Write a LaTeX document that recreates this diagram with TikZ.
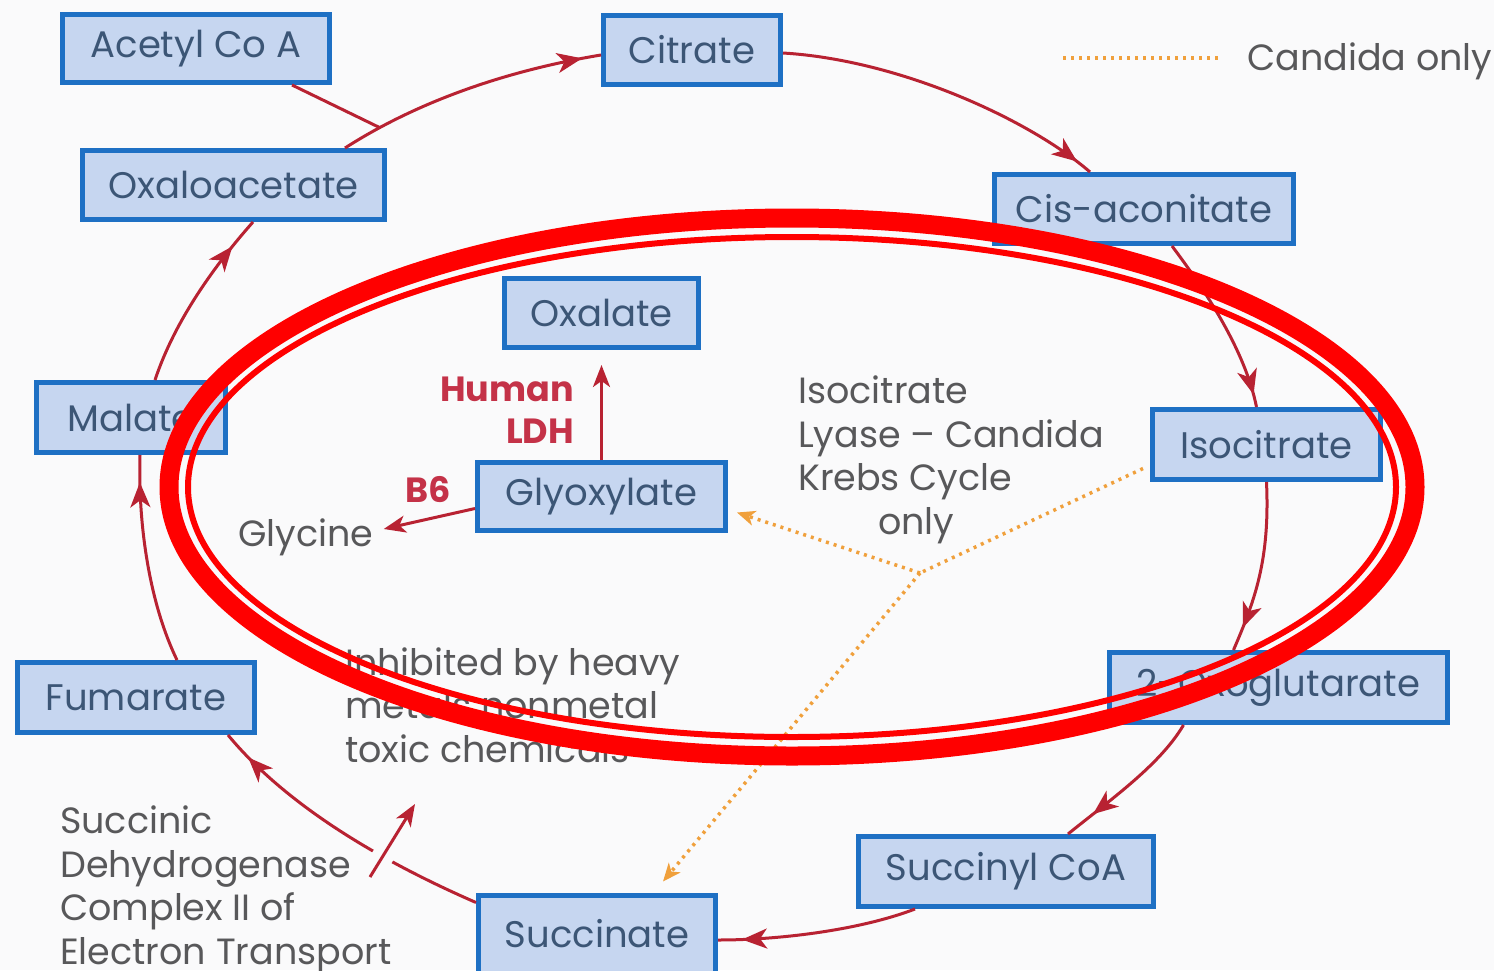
\documentclass[tikz,border=0pt]{standalone}
\usepackage{fontspec}
\setmainfont{Poppins}
\usetikzlibrary{arrows.meta,decorations.markings,calc}
\definecolor{bgc}{RGB}{250,250,251}
\definecolor{boxfill}{RGB}{198,214,240}
\definecolor{boxdraw}{RGB}{30,112,196}
\definecolor{boxtext}{RGB}{60,86,118}
\definecolor{cyc}{RGB}{184,34,50}
\definecolor{redtxt}{RGB}{196,50,72}
\definecolor{graytxt}{RGB}{88,88,90}
\definecolor{orng}{RGB}{240,160,60}
\definecolor{hilite}{RGB}{255,0,0}
\begin{document}
\begin{tikzpicture}[x=1pt,y=-1pt,
  mol/.style={draw=boxdraw, line width=5pt, fill=boxfill, text=boxtext,
    font=\fontsize{37}{42}\selectfont, inner sep=0pt, anchor=center},
  lbl/.style={text=graytxt, font=\fontsize{36.5}{43.5}\selectfont, inner sep=0pt, align=left},
  redlbl/.style={text=redtxt, font=\fontsize{35}{42}\selectfont\bfseries, inner sep=0pt},
  cycline/.style={draw=cyc, color=cyc, line width=3pt},
  midarrow/.style={cycline, postaction={decorate},
    decoration={markings, mark=at position #1 with {\arrow{Stealth[length=25pt,width=20pt,inset=7pt]}}}},
  endarrow/.style={cycline, -{Stealth[length=22pt,width=17pt,inset=6pt]}},
  candida/.style={draw=orng, color=orng, line width=3.5pt, dash pattern=on 3pt off 5pt},
  candarrow/.style={candida, -{Stealth[length=18pt,width=15pt,inset=5pt]}},
]
\useasboundingbox (0,0) rectangle (1494,970);
\fill[bgc] (0,0) rectangle (1494,970);

% boxes
\node[mol, minimum width=267pt, minimum height=68pt] (acetyl) at (196,48.5) {Acetyl Co A};
\node[mol, minimum width=177pt, minimum height=69pt] (citrate) at (692,50) {Citrate};
\node[mol, minimum width=302pt, minimum height=69pt] (oxalo) at (233.5,185) {Oxaloacetate};
\node[mol, minimum width=299pt, minimum height=69pt] (cis) at (1144,209) {Cis-aconitate};
\node[mol, minimum width=194pt, minimum height=69pt] (oxalate) at (601.5,313) {Oxalate};
\node[mol, minimum width=189pt, minimum height=70pt] (malate) at (131,417.5) {Malate};
\node[mol, minimum width=228pt, minimum height=70pt] (isocit) at (1266.5,444.5) {Isocitrate};
\node[mol, minimum width=248pt, minimum height=68pt] (glyox) at (601.5,496.5) {Glyoxylate};
\node[mol, minimum width=237pt, minimum height=70pt] (fumarate) at (136,697.5) {Fumarate};
\node[mol, minimum width=338pt, minimum height=70pt] (oxoglut) at (1278.5,687.5) {2-Oxoglutarate};
\node[mol, minimum width=295pt, minimum height=70pt] (succoa) at (1006,871.5) {Succinyl CoA};
\node[mol, minimum width=237pt, minimum height=78pt] (succinate) at (597,934) {Succinate};

% labels
\node[lbl, anchor=west] (candlbl) at (1247,61) {Candida only};
\node[redlbl, align=right, anchor=east] (human) at (574,410) {Human\\LDH};
\node[redlbl] (b6) at (428,490) {B6};
\node[lbl] (glycine) at (306,537) {Glycine};
\node[lbl, anchor=west] (lyase) at (798,460) {Isocitrate\\Lyase -- Candida\\Krebs Cycle\\\hspace*{80pt}only};
\node[lbl, anchor=west] (inhib) at (345,705) {Inhibited by heavy\\metals nonmetal\\toxic chemicals};
\node[lbl, anchor=west] (sdh) at (60,890) {Succinic\\Dehydrogenase\\Complex II of\\Electron Transport};

% legend
\coordinate (lg1) at (1063,58);
\coordinate (lg2) at (1218,58);
\draw[candida] (lg1) -- (lg2);

% cycle connectors
\draw[midarrow=0.93] ([xshift=111.5pt]oxalo.north) .. controls (420,100) and (510,70) .. ([yshift=-5pt]citrate.west) coordinate[pos=0.15] (j1);
\draw[cycline] ([xshift=96pt]acetyl.south) -- (j1);
\draw[midarrow=0.95] ([yshift=-3pt]citrate.east) .. controls (900,60) and (1030,120) .. ([xshift=-54pt]cis.north);
\draw[midarrow=0.93] ([xshift=28pt]cis.south) .. controls (1205,290) and (1245,350) .. ([xshift=-10pt]isocit.north);
\draw[midarrow=0.86] (isocit.south) .. controls (1270,560) and (1255,600) .. ([xshift=-45pt]oxoglut.north);
\draw[midarrow=0.8] ([xshift=-95pt]oxoglut.south) .. controls (1160,765) and (1110,800) .. ([xshift=62pt]succoa.north);
\draw[midarrow=0.88] ([xshift=-91pt]succoa.south) .. controls (860,930) and (780,940) .. ([yshift=-6pt]succinate.east);
\draw[midarrow=0.9] ([yshift=-10pt]succinate.north west) .. controls (390,865) and (290,810) .. ([xshift=92pt]fumarate.south);
\draw[midarrow=0.87] ([xshift=41pt]fumarate.north) .. controls (148,600) and (138,520) .. ([xshift=9pt]malate.south);
\draw[midarrow=0.83] ([xshift=24pt]malate.north) .. controls (175,320) and (215,265) .. ([xshift=19.5pt]oxalo.south);

% inhibition arrow
\coordinate (inhA) at (370,877);
\coordinate (inhB) at (415,804);
\draw[endarrow, preaction={draw=bgc, line width=22pt, -}] (inhA) -- (inhB);

% glyoxylate branches
\draw[endarrow] (glyox.north) -- ([yshift=-15pt]oxalate.south);
\draw[endarrow] ([yshift=-12pt]glyox.west) -- ([shift={(10pt,8pt)}]glycine.east);

% candida dotted
\coordinate (jn) at (920,573);
\draw[candida] ([shift={(-7pt,-24pt)}]isocit.west) -- (jn);
\draw[candarrow] (jn) -- ([shift={(9pt,-16pt)}]glyox.east);
\draw[candarrow] (jn) -- ([shift={(66pt,11pt)}]succinate.north);

% highlight ellipse
\draw[hilite, line width=19pt] (792,487) ellipse [x radius=623pt, y radius=269pt];
\draw[hilite, line width=6pt] (792,487) ellipse [x radius=604pt, y radius=250pt];
\end{tikzpicture}
\end{document}
